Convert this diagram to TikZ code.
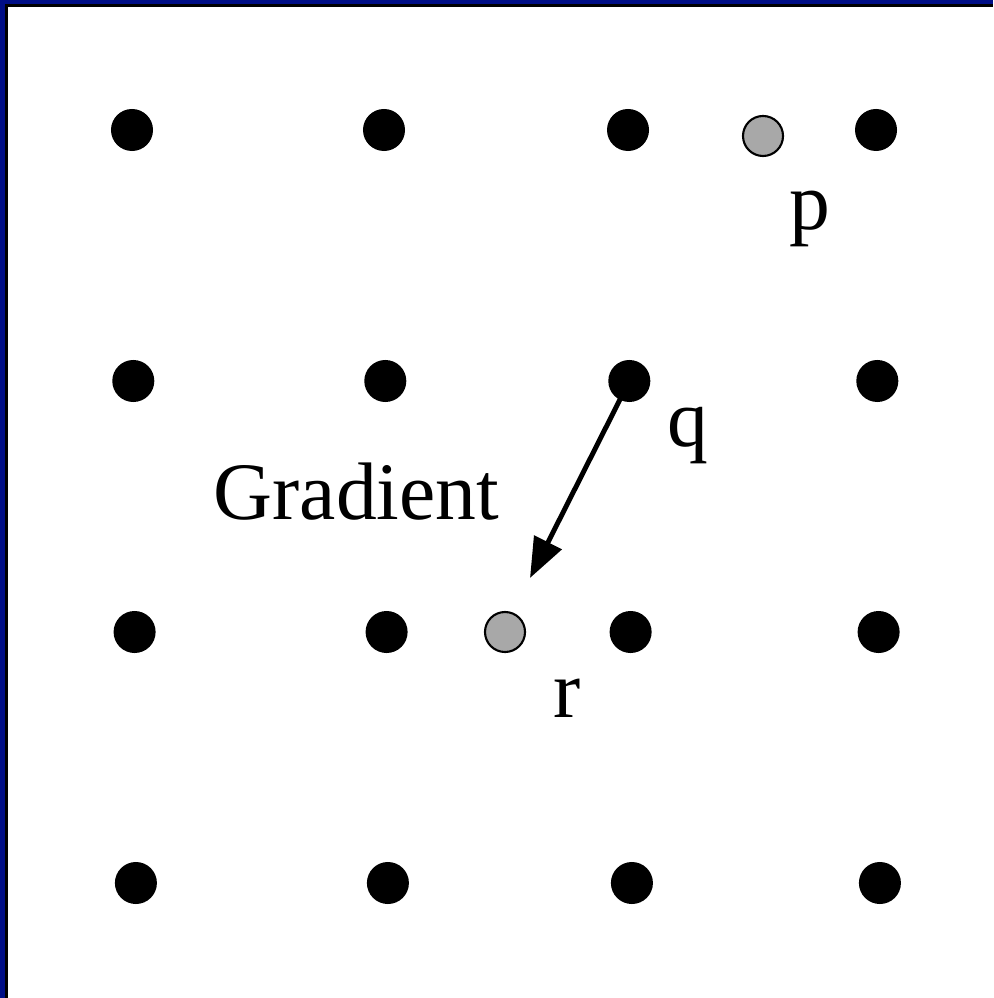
\documentclass[tikz,border=0pt]{standalone}
\usepackage{fontspec}
\setmainfont{Liberation Serif}
\usetikzlibrary{arrows.meta}
\definecolor{framenavy}{RGB}{0,14,134}
\definecolor{dotgray}{RGB}{168,168,168}

\begin{document}
\begin{tikzpicture}[x=0.01cm, y=-0.01cm,
    dot/.style={circle, fill=black, inner sep=0pt, minimum size=0.42cm},
    graydot/.style={circle, draw=black, line width=0.6pt, fill=dotgray, inner sep=0pt, minimum size=0.40cm},
    lbl/.style={font=\fontsize{23.2}{28}\selectfont, inner sep=0pt}]

    % =================================================================
    % Frame
    % =================================================================
    \useasboundingbox (0,0) rectangle (993,998);
    \fill[framenavy] (0,0) rectangle (993,998);
    \fill[black] (5,4) rectangle (993,998);
    \fill[white] (8,7) rectangle (993,998);

    % =================================================================
    % Grid of sample points (4 x 4)
    % =================================================================
    \foreach \j in {1,...,4} {
        \foreach \cx [count=\i] in {132,384,628,876} {
            \node[dot] (d\i\j) at ({\cx+1.3*(\j-1)}, {130+251*(\j-1)}) {};
        }
    }

    % Interpolated points
    \node[graydot] (p) at (763,136) {};
    \node[graydot] (r) at (505,632) {};

    % =================================================================
    % Gradient arrow from q
    % =================================================================
    \coordinate (tip) at (530,578);
    \draw[line width=1.4pt, -{Triangle[length=0.4cm, width=0.3cm]}] (d32.center) -- (tip);

    % Labels
    \node[lbl] (plbl) at (810,219) {p};
    \node[lbl] (qlbl) at (688,436) {q};
    \node[lbl] (rlbl) at (567,698) {r};
    \node[lbl, anchor=base west] (gradlbl) at (213,520) {Gradient};

\end{tikzpicture}
\end{document}
